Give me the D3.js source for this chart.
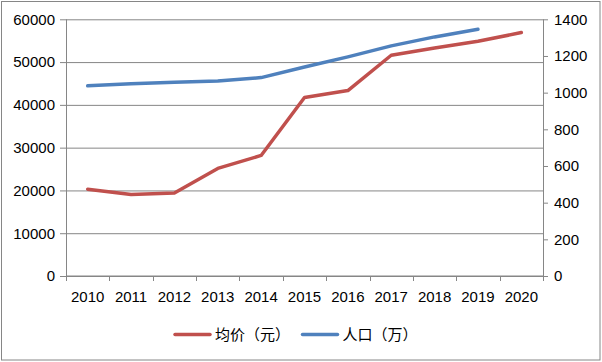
<!DOCTYPE html>
<html>
<head>
<meta charset="utf-8">
<script src="https://cdn.jsdelivr.net/npm/d3@7"></script>
<style>
  body { margin: 0; background: #fff; }
  text { font-family: "Liberation Sans", Arial, sans-serif; fill: #000; }
</style>
</head>
<body>
<div id="chart"></div>
<script>
const years = ["2010", "2011", "2012", "2013", "2014", "2015", "2016", "2017", "2018", "2019", "2020"];
const priceValues = [20300, 19070, 19380, 25140, 28180, 41720, 43350, 51600, 53300, 54860, 56900];
const popYears = ["2010", "2011", "2012", "2013", "2014", "2015", "2016", "2017", "2018", "2019"];
const popValues = [1037, 1048, 1057, 1064, 1082, 1140, 1195, 1255, 1304, 1346];
const leftTicks = [0, 10000, 20000, 30000, 40000, 50000, 60000];
const rightTicks = [0, 200, 400, 600, 800, 1000, 1200, 1400];
const seriesNames = ["均价（元）", "人口（万）"];

const width = 602, height = 362;
const plotLeft = 66, plotRight = 543, plotTop = 19.3, plotBottom = 276;
const red = "#c0504d", blue = "#4f81bd", gray = "#868686";
const fontSize = "15px";

const svg = d3.select("#chart").append("svg")
    .attr("width", width)
    .attr("height", height);

// outer chart border
svg.append("rect")
    .attr("x", 1.5).attr("y", 1.5)
    .attr("width", 598.5).attr("height", 358.5)
    .attr("fill", "#fff")
    .attr("stroke", gray)
    .attr("stroke-width", 1);

const x = d3.scaleBand().domain(years).range([plotLeft, plotRight]);
const yL = d3.scaleLinear().domain([0, 60000]).range([plotBottom, plotTop]);
const yR = d3.scaleLinear().domain([0, 1400]).range([plotBottom, plotTop]);

// gridlines
svg.append("g")
    .attr("transform", `translate(${plotLeft},0)`)
    .call(d3.axisLeft(yL).tickValues(leftTicks).tickSize(-(plotRight - plotLeft)).tickFormat(""))
    .call(g => g.select(".domain").remove())
    .call(g => g.selectAll("line").attr("stroke", gray));

// left axis
svg.append("g")
    .attr("transform", `translate(${plotLeft},0)`)
    .call(d3.axisLeft(yL).tickValues(leftTicks).tickSize(6).tickPadding(5).tickFormat(d3.format("d")))
    .call(g => g.select(".domain").remove())
    .call(g => g.selectAll("line").attr("stroke", gray))
    .call(g => g.selectAll("text").style("font-size", fontSize));

// right axis
svg.append("g")
    .attr("transform", `translate(${plotRight},0)`)
    .call(d3.axisRight(yR).tickValues(rightTicks).tickSize(5).tickPadding(6).tickFormat(d3.format("d")))
    .call(g => g.select(".domain").remove())
    .call(g => g.selectAll("line").attr("stroke", gray))
    .call(g => g.selectAll("text").style("font-size", fontSize));

// axis lines
svg.append("line").attr("x1", plotLeft + 0.5).attr("x2", plotLeft + 0.5).attr("y1", plotTop).attr("y2", plotBottom).attr("stroke", gray);
svg.append("line").attr("x1", plotRight + 0.5).attr("x2", plotRight + 0.5).attr("y1", plotTop).attr("y2", plotBottom).attr("stroke", gray);
svg.append("line").attr("x1", plotLeft).attr("x2", plotRight).attr("y1", plotBottom).attr("y2", plotBottom).attr("stroke", gray);

// x tick marks at category boundaries
const bounds = years.map(d => x(d)).concat([plotRight]);
svg.selectAll(".xtick")
    .data(bounds)
    .enter().append("line")
    .attr("class", "xtick")
    .attr("x1", d => Math.round(d) + 0.5).attr("x2", d => Math.round(d) + 0.5)
    .attr("y1", plotBottom).attr("y2", plotBottom + 5)
    .attr("stroke", gray);

svg.selectAll(".xlabel")
    .data(years)
    .enter().append("text")
    .attr("class", "xlabel")
    .attr("x", d => x(d) + x.bandwidth() / 2)
    .attr("y", 301.5)
    .attr("text-anchor", "middle")
    .style("font-size", fontSize)
    .text(d => d);

// lines
const cx = d => x(d) + x.bandwidth() / 2;

svg.append("path")
    .datum(years.map((d, i) => [d, priceValues[i]]))
    .attr("fill", "none")
    .attr("stroke", red)
    .attr("stroke-width", 3.5)
    .attr("stroke-linejoin", "round")
    .attr("stroke-linecap", "round")
    .attr("d", d3.line().x(d => cx(d[0])).y(d => yL(d[1])));

svg.append("path")
    .datum(popYears.map((d, i) => [d, popValues[i]]))
    .attr("fill", "none")
    .attr("stroke", blue)
    .attr("stroke-width", 3.5)
    .attr("stroke-linejoin", "round")
    .attr("stroke-linecap", "round")
    .attr("d", d3.line().x(d => cx(d[0])).y(d => yR(d[1])));

// legend
const legend = [
    { name: seriesNames[0], color: red, x: 175 },
    { name: seriesNames[1], color: blue, x: 302.5 }
];
const lg = svg.selectAll(".legend")
    .data(legend)
    .enter().append("g")
    .attr("class", "legend")
    .attr("transform", d => `translate(${d.x},334.5)`);

lg.append("line")
    .attr("x1", 0).attr("x2", 35)
    .attr("stroke", d => d.color)
    .attr("stroke-width", 3.5)
    .attr("stroke-linecap", "round");

lg.append("text")
    .attr("x", 40)
    .attr("y", 5.5)
    .style("font-family", "'Noto Sans CJK SC', sans-serif")
    .style("font-size", "15px")
    .text(d => d.name);
</script>
</body>
</html>
